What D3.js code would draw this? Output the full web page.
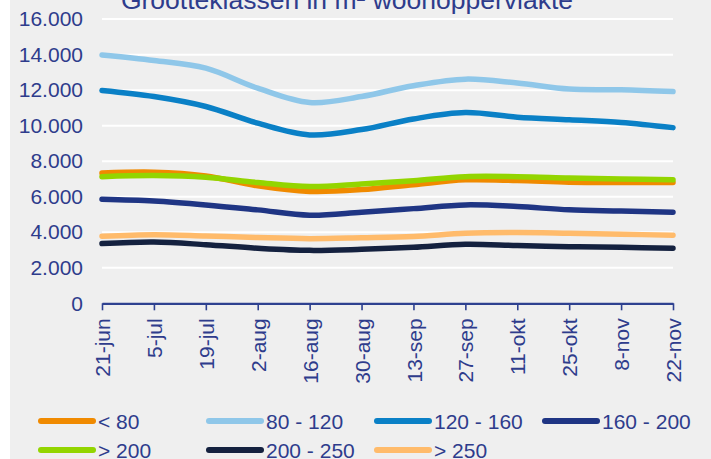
<!DOCTYPE html>
<html>
<head>
<meta charset="utf-8">
<script src="https://cdn.jsdelivr.net/npm/d3@7"></script>
<style>
  body { margin: 0; background: #ffffff; }
  text { font-family: "Liberation Sans", Arial, sans-serif; fill: #2e3c8c; }
</style>
</head>
<body>
<script>
// size of the picture
var svgWidth = 711;
var svgHeight = 459;

// categories (every two weeks)
var dates = ["21-jun", "5-jul", "19-jul", "2-aug", "16-aug", "30-aug",
             "13-sep", "27-sep", "11-okt", "25-okt", "8-nov", "22-nov"];

// values per size class
var lt80    = [7330, 7380, 7170, 6610, 6300, 6400, 6680, 6950, 6910, 6820, 6800, 6800];
var c80_120 = [13980, 13670, 13240, 12110, 11300, 11640, 12250, 12620, 12400, 12060, 12020, 11920];
var c120_160 = [11980, 11640, 11080, 10140, 9480, 9780, 10380, 10740, 10480, 10330, 10180, 9890];
var c160_200 = [5860, 5760, 5540, 5260, 4960, 5130, 5330, 5540, 5450, 5260, 5200, 5130];
var gt200   = [7130, 7190, 7100, 6800, 6570, 6710, 6900, 7130, 7130, 7060, 7000, 6950];
var c200_250 = [3360, 3450, 3300, 3100, 2980, 3040, 3150, 3320, 3250, 3190, 3150, 3100];
var gt250   = [3775, 3865, 3790, 3700, 3640, 3690, 3760, 3940, 3980, 3940, 3890, 3830];

var seriesNames = ["< 80", "80 - 120", "120 - 160", "160 - 200", "> 200", "200 - 250", "> 250"];
var seriesValues = [lt80, c80_120, c120_160, c160_200, gt200, c200_250, gt250];
var seriesColors = ["#f08a00", "#8fc7e9", "#0a80c6", "#1f3584", "#93d500", "#14213f", "#ffbb6b"];

var yTicks = [0, 2000, 4000, 6000, 8000, 10000, 12000, 14000, 16000];

var textColor = "#2e3c8c";

var svg = d3.select("body")
  .append("svg")
  .attr("width", svgWidth)
  .attr("height", svgHeight);

// gray panel
svg.append("rect")
  .attr("x", 10).attr("y", 0)
  .attr("width", svgWidth - 10).attr("height", svgHeight)
  .attr("fill", "#efefef");

// title (cut off at the top in the original)
svg.append("text")
  .attr("x", 347)
  .attr("y", 9)
  .attr("text-anchor", "middle")
  .attr("font-size", "26.5px")
  .text("Grootteklassen in m² woonoppervlakte");

// scales
var xScale = d3.scalePoint()
  .domain(dates)
  .range([102, 673]);

var yScale = d3.scaleLinear()
  .domain([0, 16000])
  .range([303.3, 19.1]);

// gridlines
svg.append("g")
  .selectAll("line")
  .data(yTicks.slice(1))
  .enter()
    .append("line")
    .attr("x1", 102)
    .attr("x2", 673)
    .attr("y1", d => yScale(d))
    .attr("y2", d => yScale(d))
    .attr("stroke", "#ffffff")
    .attr("stroke-width", 2);

// y axis labels (no line)
var fmt = d3.formatLocale({decimal: ",", thousands: ".", grouping: [3], currency: ["€", ""]}).format(",");
var leftAxis = d3.axisLeft(yScale).tickValues(yTicks).tickFormat(fmt).tickSize(0).tickPadding(0);
var yAxisG = svg.append("g")
  .attr("transform", "translate(83,0)")
  .call(leftAxis);
yAxisG.select(".domain").remove();
yAxisG.selectAll("text")
  .attr("font-size", "21px")
  .attr("font-family", "Liberation Sans, Arial, sans-serif")
  .attr("fill", textColor);

// x axis
var bottomAxis = d3.axisBottom(xScale).tickSizeOuter(0).tickSizeInner(7).tickPadding(0);
var xAxisG = svg.append("g")
  .attr("transform", "translate(0,303.3)")
  .call(bottomAxis);
xAxisG.select(".domain")
  .attr("stroke", "#2e4190")
  .attr("stroke-width", 2.2);
xAxisG.selectAll(".tick line")
  .attr("stroke", "#2e4190")
  .attr("stroke-width", 1.6);
xAxisG.selectAll("text")
  .attr("font-size", "21px")
  .attr("font-family", "Liberation Sans, Arial, sans-serif")
  .attr("fill", textColor)
  .attr("text-anchor", "end")
  .attr("transform", "rotate(-90)")
  .attr("x", -15)
  .attr("y", 0)
  .attr("dy", "0.36em");

// lines
var line = d3.line()
  .x((d, i) => xScale(dates[i]))
  .y(d => yScale(d))
  .curve(d3.curveCatmullRom.alpha(0.5));

svg.append("g")
  .selectAll("path")
  .data(seriesValues)
  .enter()
    .append("path")
    .attr("d", d => line(d))
    .attr("fill", "none")
    .attr("stroke", (d, i) => seriesColors[i])
    .attr("stroke-width", 5.5)
    .attr("stroke-linecap", "round");

// legend: 4 columns, 2 rows
var legendX = [38, 206, 374, 542];
var legendY = [421, 450];
var legend = svg.append("g");
seriesNames.forEach(function(name, i) {
  var lx = legendX[i % 4];
  var ly = legendY[Math.floor(i / 4)];
  legend.append("line")
    .attr("x1", lx + 3).attr("x2", lx + 55)
    .attr("y1", ly).attr("y2", ly)
    .attr("stroke", seriesColors[i])
    .attr("stroke-width", 6)
    .attr("stroke-linecap", "round");
  legend.append("text")
    .attr("x", lx + 60)
    .attr("y", ly)
    .attr("dy", "0.36em")
    .attr("font-size", "21px")
    .text(name);
});
</script>
</body>
</html>
